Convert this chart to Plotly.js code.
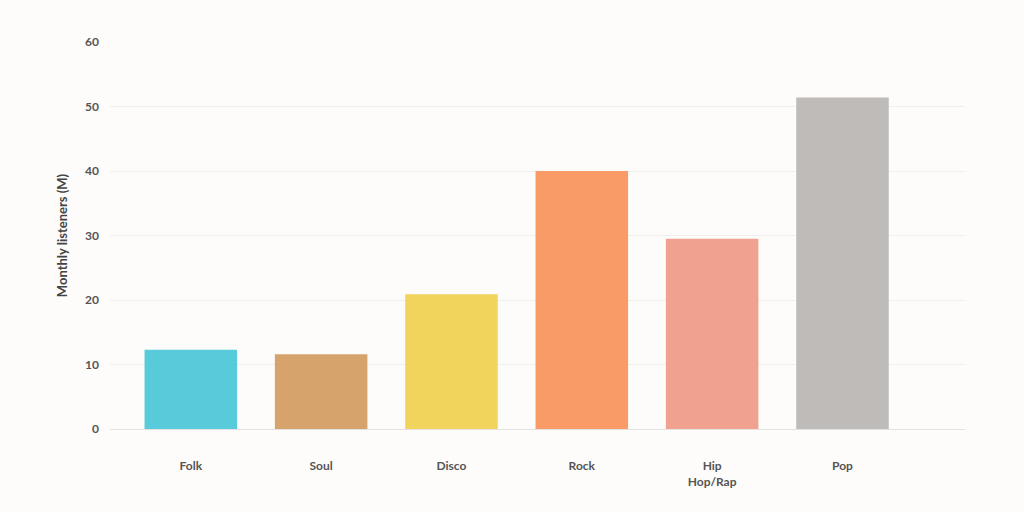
<!DOCTYPE html>
<html>
<head>
<meta charset="utf-8">
<script src="https://cdn.plot.ly/plotly-3.0.1.min.js"></script>
<style>
  html, body { margin: 0; padding: 0; background: #fdfcfa; }
  #chart { width: 1024px; height: 512px; }
</style>
</head>
<body>
<div id="chart"></div>
<script>
// values
const categories = ['Folk', 'Soul', 'Disco', 'Rock', 'Hip<br>Hop/Rap', 'Pop'];
const listeners = [12.3, 11.6, 20.9, 40.0, 29.5, 51.4];
const barColors = ['#57cbd9', '#d6a36c', '#f0d45c', '#f99b66', '#f1a190', '#bfbbb9'];
const yTicks = [0, 10, 20, 30, 40, 50, 60];

const trace = {
  type: 'bar',
  x: categories.map((c, i) => i),
  y: listeners,
  marker: { color: barColors },
  hoverinfo: 'skip'
};

const layout = {
  width: 1024,
  height: 512,
  margin: { l: 110, r: 59, t: 42, b: 83 },
  paper_bgcolor: '#fdfcfa',
  plot_bgcolor: '#fdfcfa',
  bargap: 0.29,
  showlegend: false,
  font: { family: 'Lato, sans-serif', size: 12, color: '#444' },
  xaxis: {
    range: [-0.62, 5.94],
    tickvals: categories.map((c, i) => i),
    ticktext: categories,
    showgrid: false,
    zeroline: false,
    showline: true,
    linecolor: '#e4e2e0',
    ticks: '',
    ticklabelstandoff: 26,
    tickfont: { size: 12, color: '#555', weight: 'bold' }
  },
  yaxis: {
    range: [0, 60],
    tickvals: yTicks,
    gridcolor: '#f1efec',
    zeroline: false,
    ticks: '',
    ticklabelstandoff: 10,
    tickfont: { size: 12, color: '#555', weight: 'bold' },
    title: { text: 'Monthly listeners (M)', font: { size: 13, color: '#444', weight: 'bold' }, standoff: 14 }
  }
};

Plotly.newPlot('chart', [trace], layout, { displayModeBar: false, staticPlot: true });
</script>
</body>
</html>
